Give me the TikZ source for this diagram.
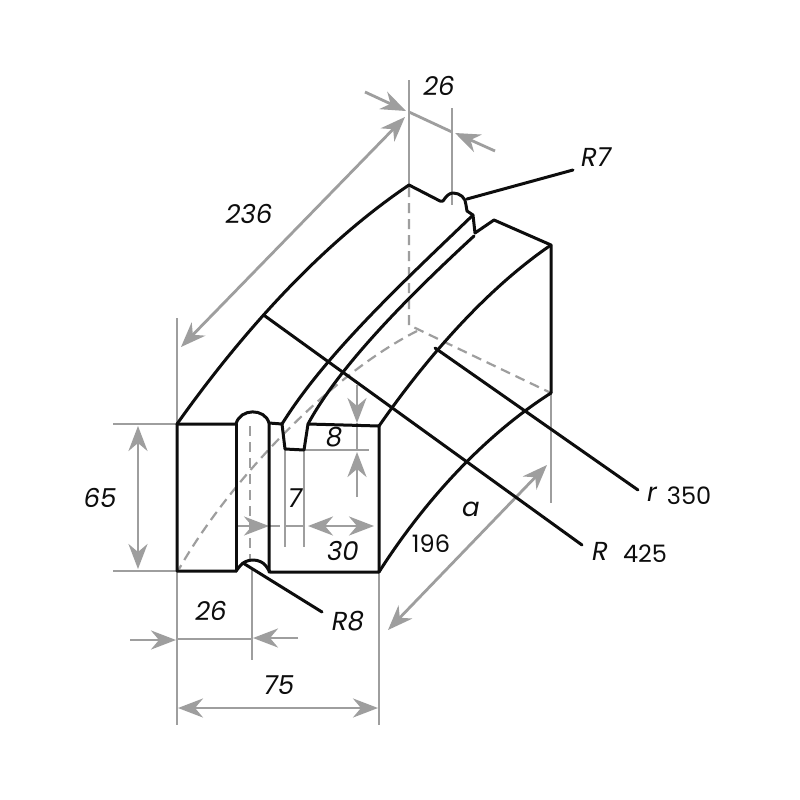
\documentclass[tikz,border=0pt]{standalone}
\usepackage{fontspec}
\setmainfont{Poppins}
\usetikzlibrary{arrows.meta}
\definecolor{dimgray}{gray}{0.62}
\definecolor{ink}{gray}{0.05}
\tikzset{
  body/.style={draw=ink,line width=3pt,line join=round,line cap=round},
  hidden/.style={draw=dimgray,line width=2.2pt,dash pattern=on 10pt off 6pt},
  dim/.style={draw=dimgray,line width=2.8pt},
  tip/.tip={Stealth[length=25pt,width=19pt,inset=8pt]},
  lab/.style={font=\fontsize{26}{26}\selectfont\itshape,text=ink,inner sep=0pt},
  num/.style={font=\fontsize{24}{24}\selectfont,text=ink,inner sep=0pt}
}
\begin{document}
\begin{tikzpicture}[x=1pt,y=-1pt]
\useasboundingbox[fill=white] (0,0) rectangle (800,800);
% extension lines
\draw[dim] (177,318) -- (177,424);
\draw[dim] (177,571) -- (177,725);
\draw[dim] (379,572) -- (379,725);
\draw[dim] (252,570) -- (252,660);
\draw[dim] (409,80) -- (409,185);
\draw[dim] (452,108) -- (452,205);
\draw[dim] (113,424) -- (177,424);
\draw[dim] (113,571) -- (177,571);
\draw[dim] (551,393) -- (551,503);
\draw[dim] (285,449) -- (285,547);
\draw[dim] (304,449) -- (304,547);
\draw[dim] (304,450) -- (369,450);
\draw[dim] (285,526) -- (304,526);
% dimension arrows
\draw[dim,tip-tip] (181,347) -- (405,117);
\draw[dim,-tip] (365,92) -- (406,111);
\draw[dim] (409,112) -- (452,132);
\draw[dim,-tip] (495,151) -- (455,133);
\draw[dim,tip-tip] (138,426) -- (138,569);
\draw[dim,-tip] (130,640) -- (176,640);
\draw[dim] (177,639) -- (252,639);
\draw[dim,-tip] (298,638) -- (253,638);
\draw[dim,tip-tip] (178,708) -- (378,708);
\draw[dim,tip-tip] (388,630) -- (547,465);
\draw[dim,-tip] (357,385) -- (357,423);
\draw[dim] (357,423) -- (357,450);
\draw[dim,-tip] (357,497) -- (357,452);
\draw[dim,tip-tip] (308,526) -- (374,526);
\draw[dim,-tip] (237,526) -- (269,526);
\draw[dim] (269,526) -- (280,526);
% hidden edges
\draw[hidden] (409,187) -- (409,325) -- (551,393);
\draw[hidden] (417,331) .. controls (330,375) and (230,480) .. (179,569);
\draw[hidden] (250,426) -- (250,560);
% front face
\draw[body] (177,424) -- (177,571) -- (236,571) -- (240,566)
  .. controls (246,558) and (260,558) .. (266,566) -- (270,572) -- (379,572) -- (379,426)
  -- (308,424) -- (304,450) -- (285,449) -- (282,424) -- (269,423);
\draw[body] (177,424) -- (236,424) .. controls (240,408) and (265,408) .. (269,423) -- (269,572);
\draw[body] (236,424) -- (236,571);
% top arcs
\draw[body] (177,424) .. controls (240,335) and (320,245) .. (409,185)
  -- (440,201) -- (443,201) .. controls (447,195) and (450,193) .. (453,193)
  .. controls (460,193) and (466,198) .. (466,205)
  -- (467,211) -- (473,215) -- (475,233) -- (494,220) -- (551,245) -- (551,393);
\draw[body] (282,424) .. controls (325,355) and (400,285) .. (472,216);
\draw[body] (308,424) .. controls (340,365) and (410,295) .. (474,236);
\draw[body] (379,426) .. controls (425,360) and (485,290) .. (551,245);
\draw[body] (379,572) .. controls (425,500) and (485,435) .. (551,393);
% leaders
\draw[body] (265,316) -- (582,545);
\draw[body] (435,348) -- (638,490);
\draw[body] (467,199) -- (573,170);
\draw[body] (243,563) -- (322,612);
% labels
\node[lab] (t1) at (439,86) {26};
\node[lab] (t2) at (596,157) {R7};
\node[lab] (t3) at (249,214) {236};
\node[lab] (t4) at (100,498) {65};
\node[lab] (t5) at (334,437) {8};
\node[lab] (t6) at (295,498) {7};
\node[lab] (t7) at (343,551) {30};
\node[lab] (t8) at (471,509) {a};
\node[num] (t9) at (431,544) {196};
\node[lab] (t10) at (652,494) {r};
\node[num] (t11) at (689,496) {350};
\node[lab] (t12) at (600,551) {R};
\node[num] (t13) at (645,554) {425};
\node[lab] (t14) at (348,621) {R8};
\node[lab] (t15) at (211,611) {26};
\node[lab] (t16) at (279,685) {75};
\end{tikzpicture}
\end{document}
